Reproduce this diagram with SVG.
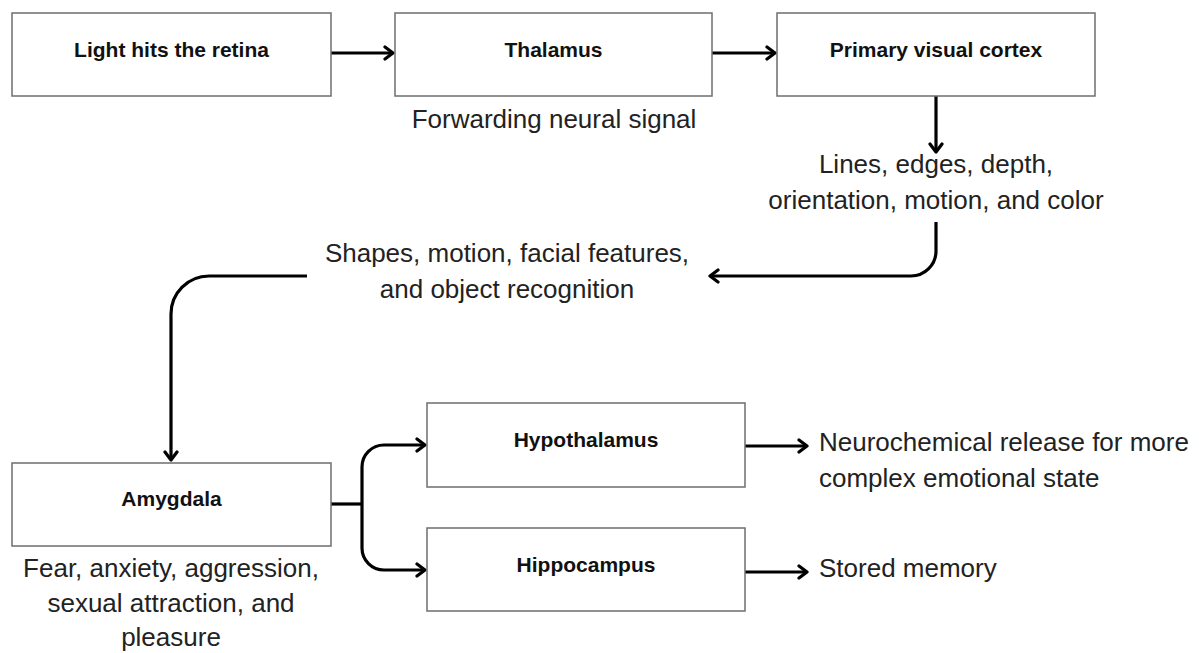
<svg xmlns="http://www.w3.org/2000/svg" width="1199" height="653" viewBox="0 0 1199 653">
  <style>
    .box { fill: #ffffff; stroke: #6e6e6e; stroke-width: 1.5; }
    .title { font-family: "Liberation Sans", Arial, sans-serif; font-weight: bold; font-size: 21px; fill: #111111; text-anchor: middle; }
    .note { font-family: "Liberation Sans", Arial, sans-serif; font-size: 26px; fill: #222222; }
    .mid { text-anchor: middle; }
    .wire { fill: none; stroke: #000000; stroke-width: 3.2; }
    .arrow { marker-end: url(#head); }
  </style>
  <defs>
    <marker id="head" markerUnits="userSpaceOnUse" viewBox="-12 -9 14 18" markerWidth="14" markerHeight="18" refX="0" refY="0" orient="auto">
      <path d="M -8 -6 L 0 0 L -8 6" fill="none" stroke="#000000" stroke-width="3.2" stroke-linecap="round" stroke-linejoin="round"/>
    </marker>
  </defs>

  <rect width="1199" height="653" fill="#ffffff"/>

  <!-- connectors -->
  <g id="connectors">
    <path class="wire arrow" d="M331 53 H393"/>
    <path class="wire arrow" d="M712 53 H775"/>
    <path class="wire arrow" d="M936 96 V152"/>
    <path class="wire arrow" d="M936 222 V251 A25 25 0 0 1 911 276 H710"/>
    <path class="wire arrow" d="M307 276 H209 A38 38 0 0 0 171 314 V460"/>
    <path class="wire" d="M331 504 H362"/>
    <path class="wire arrow" d="M362 504 V467 A22 22 0 0 1 384 445 H425"/>
    <path class="wire arrow" d="M362 504 V548 A22 22 0 0 0 384 570 H425"/>
    <path class="wire arrow" d="M745 446 H807"/>
    <path class="wire arrow" d="M745 572 H807"/>
  </g>

  <!-- pathway stages -->
  <g id="retina">
    <rect class="box" x="12" y="13" width="319" height="83"/>
    <text class="title" x="171.5" y="57">Light hits the retina</text>
  </g>

  <g id="thalamus">
    <rect class="box" x="395" y="13" width="317" height="83"/>
    <text class="title" x="553.5" y="57">Thalamus</text>
    <text class="note mid" x="554" y="128">Forwarding neural signal</text>
  </g>

  <g id="visual-cortex">
    <rect class="box" x="777" y="13" width="318" height="83"/>
    <text class="title" x="936" y="57">Primary visual cortex</text>
  </g>

  <g id="cortex-features">
    <text class="note mid" x="936" y="173">Lines, edges, depth,</text>
    <text class="note mid" x="936" y="209">orientation, motion, and color</text>
  </g>

  <g id="object-features">
    <text class="note mid" x="507" y="262">Shapes, motion, facial features,</text>
    <text class="note mid" x="507" y="298">and object recognition</text>
  </g>

  <g id="amygdala">
    <rect class="box" x="12" y="463" width="319" height="83"/>
    <text class="title" x="171.5" y="506">Amygdala</text>
    <text class="note mid" x="171" y="577">Fear, anxiety, aggression,</text>
    <text class="note mid" x="171" y="612">sexual attraction, and</text>
    <text class="note mid" x="171" y="646">pleasure</text>
  </g>

  <g id="hypothalamus">
    <rect class="box" x="427" y="403" width="318" height="84"/>
    <text class="title" x="586" y="447">Hypothalamus</text>
  </g>

  <g id="hippocampus">
    <rect class="box" x="427" y="528" width="318" height="83"/>
    <text class="title" x="586" y="572">Hippocampus</text>
  </g>

  <g id="neurochemical">
    <text class="note" x="819" y="451">Neurochemical release for more</text>
    <text class="note" x="819" y="487">complex emotional state</text>
  </g>

  <g id="memory">
    <text class="note" x="819" y="577">Stored memory</text>
  </g>
</svg>
